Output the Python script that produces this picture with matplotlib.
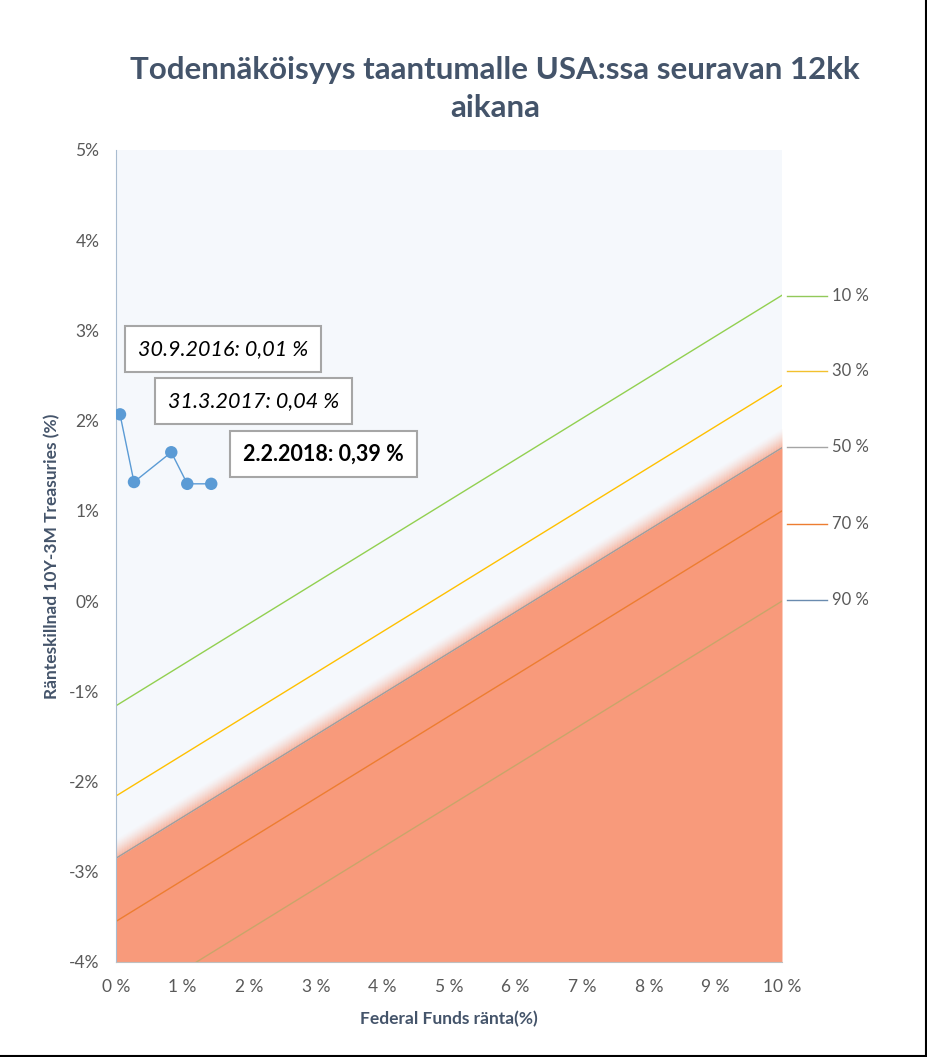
import numpy as np
import matplotlib
matplotlib.use("Agg")
import matplotlib.pyplot as plt
from matplotlib.lines import Line2D

plt.rcParams['font.family'] = ['Lato', 'DejaVu Sans']

# ---- data ----
title = "Todennäköisyys taantumalle USA:ssa seuravan 12kk\naikana"
x_label = "Federal Funds ränta(%)"
y_label = "Ränteskillnad 10Y-3M Treasuries (%)"

x_ticks = [0, 1, 2, 3, 4, 5, 6, 7, 8, 9, 10]
x_tick_labels = [f"{v} %" for v in x_ticks]
y_ticks = [-4, -3, -2, -1, 0, 1, 2, 3, 4, 5]
y_tick_labels = [f"{v}%" for v in y_ticks]

# probability iso-lines: spread = intercept + slope * fedfunds
prob_labels = ["10 %", "30 %", "50 %", "70 %", "90 %"]
prob_intercepts = [-1.16, -2.16, -2.85, -3.55, -4.55]
prob_slope = 0.455
prob_colors = ["#92C95A", "#F2C12E", "#A5A5A5", "#ED7D31", "#6A8BAF"]
line_colors_in_chart = ["#92D050", "#FFC000", "#9E9E9E", "#ED7D31", "#C9A56A"]

# observed points (fed funds, spread)
obs_x = [0.06, 0.27, 0.83, 1.07, 1.43]
obs_y = [2.07, 1.32, 1.65, 1.30, 1.30]

ann_texts = ["30.9.2016: 0,01 %", "31.3.2017: 0,04 %", "2.2.2018: 0,39 %"]
ann_pos = [(0.33, 2.79), (0.78, 2.22), (1.91, 1.63)]
ann_style = [("italic", "normal"), ("italic", "normal"), ("normal", "bold")]

# ---- figure ----
W, H = 928, 1057
fig = plt.figure(figsize=(W / 100, H / 100), dpi=100)
ax = fig.add_axes([116 / W, 1 - 962 / H, (782 - 116) / W, (962 - 150) / H])
ax.set_xlim(0, 10)
ax.set_ylim(-4, 5)
ax.set_facecolor("#F5F8FC")

xs = np.linspace(0, 10, 200)

# red zone below 50% line with soft edge
i50 = prob_intercepts[2]
base = i50 + prob_slope * xs
ax.fill_between(xs, -4, base, color="#F89A7B", lw=0, zorder=1)
nsteps = 20
step = 0.011
for k in range(nsteps):
    off = step * (k + 1)
    a = 0.9 * (1 - (k + 1) / (nsteps + 1)) ** 1.5
    ax.fill_between(xs, base + off - step, base + off, color="#F89A7B",
                    alpha=a, lw=0, zorder=1)

for b, c in zip(prob_intercepts, line_colors_in_chart):
    ax.plot(xs, b + prob_slope * xs, color=c, lw=1.0, zorder=2)

ax.plot(obs_x, obs_y, color="#5B9BD5", lw=1.0, zorder=4)
ax.scatter(obs_x, obs_y, s=80, color="#5B9BD5", zorder=5, edgecolors="none")

for t, (px, py), (st, wt) in zip(ann_texts, ann_pos, ann_style):
    ax.text(px, py, t, fontsize=15.5, style=st, weight=wt, color="black",
            va="center", ha="left", zorder=6,
            bbox=dict(boxstyle="square,pad=0.6", fc="white", ec="#A6A6A6", lw=1.5))

ax.set_xticks(x_ticks)
ax.set_xticklabels(x_tick_labels)
ax.set_yticks(y_ticks)
ax.set_yticklabels(y_tick_labels)
ax.tick_params(length=0, labelsize=12.5, colors="#595959", pad=12)
for s in ["top", "right"]:
    ax.spines[s].set_visible(False)
ax.spines["left"].set_color("#A9BCD0")
ax.spines["bottom"].set_color("#BFBFBF")

ax.set_xlabel(x_label, fontsize=12.5, weight="bold", color="#44546A", labelpad=12)
ax.set_ylabel(y_label, fontsize=12.5, weight="bold", color="#44546A", labelpad=6)

fig.text(495 / W, 1 - 89 / H, title, ha="center", va="center", fontsize=22.5,
         weight="bold", color="#44546A", linespacing=1.4)

# legend on the right
leg_y = [296, 371, 447, 524, 600]
for lab, c, yp in zip(prob_labels, prob_colors, leg_y):
    yf = 1 - yp / H
    fig.add_artist(Line2D([787 / W, 827 / W], [yf, yf], color=c, lw=1.0))
    fig.text(832 / W, yf, lab, fontsize=12, color="#595959", va="center", ha="left")

# border on right and bottom
fig.add_artist(Line2D([1 - 1.5 / W, 1 - 1.5 / W], [1.5 / H, 1], color="black", lw=1.5))
fig.add_artist(Line2D([0, 1 - 1.5 / W], [1.5 / H, 1.5 / H], color="black", lw=1.5))

fig.savefig("out.png", dpi=100, facecolor="white")
